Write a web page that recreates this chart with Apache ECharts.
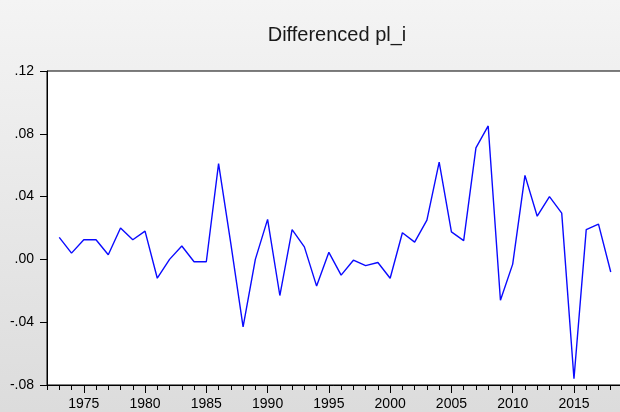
<!DOCTYPE html>
<html>
<head>
<meta charset="utf-8">
<script src="https://cdn.jsdelivr.net/npm/echarts@6/dist/echarts.min.js"></script>
<style>
	html, body { margin: 0; padding: 0; }
	#chart { width: 620px; height: 412px; }
</style>
</head>
<body>
<div id="chart"></div>
<script>
const years = [1973, 1974, 1975, 1976, 1977, 1978, 1979, 1980, 1981, 1982,
	1983, 1984, 1985, 1986, 1987, 1988, 1989, 1990, 1991, 1992,
	1993, 1994, 1995, 1996, 1997, 1998, 1999, 2000, 2001, 2002,
	2003, 2004, 2005, 2006, 2007, 2008, 2009, 2010, 2011, 2012,
	2013, 2014, 2015, 2016, 2017, 2018];
const diffValues = [0.014, 0.004, 0.0125, 0.0125, 0.003, 0.020, 0.0125, 0.018, -0.012, 0.000,
	0.0085, -0.0015, -0.0015, 0.061, 0.010, -0.043, 0.000, 0.0255, -0.023, 0.019,
	0.008, -0.017, 0.0045, -0.010, -0.0005, -0.004, -0.002, -0.012, 0.017, 0.011,
	0.025, 0.062, 0.0175, 0.012, 0.071, 0.085, -0.026, -0.003, 0.0535, 0.0275,
	0.040, 0.0295, -0.076, 0.019, 0.0225, -0.008];
const yTicks = [-0.08, -0.04, 0.00, 0.04, 0.08, 0.12];

// axis runs one year either side of the sample
const cats = [String(years[0] - 1)].concat(years.map(String), [String(years[years.length - 1] + 1)]);
const lineData = [null].concat(diffValues, [null]);

const FONT = '"Liberation Sans", Arial, sans-serif';

function fmtY(v) {
	let s = Math.abs(v).toFixed(2).replace(/^0/, '');
	return (v < -1e-9 ? '-' : '') + s;
}
const isMajor = (i, v) => Number(v) % 5 === 0;

const chart = echarts.init(document.getElementById('chart'), null, { renderer: 'canvas' });
chart.setOption({
	animation: false,
	backgroundColor: {
		type: 'linear', x: 0, y: 0, x2: 0, y2: 1,
		colorStops: [
			{ offset: 0, color: '#f4f4f4' },
			{ offset: 1, color: '#dcdcdc' }
		]
	},
	title: {
		text: 'Differenced pl_i',
		left: 332,
		top: 20,
		textAlign: 'center',
		textStyle: { fontFamily: FONT, fontSize: 20, fontWeight: 'normal', color: '#1a1a1a' }
	},
	grid: {
		left: 47, right: -3, top: 71, bottom: 27,
		containLabel: false,
		outerBoundsMode: 'none',
		show: true,
		backgroundColor: '#fff',
		borderColor: '#000',
		borderWidth: 1
	},
	xAxis: [
		{
			type: 'category',
			data: cats,
			boundaryGap: false,
			axisLine: { onZero: false, lineStyle: { color: '#000', width: 1 } },
			axisTick: { interval: 0, length: 5, lineStyle: { color: '#000' } },
			axisLabel: { show: false },
			splitLine: { show: false }
		},
		{
			type: 'category',
			data: cats,
			position: 'bottom',
			boundaryGap: false,
			axisLine: { show: false, onZero: false },
			axisTick: { interval: isMajor, length: 8, lineStyle: { color: '#000' } },
			axisLabel: {
				interval: isMajor, margin: 12,
				fontFamily: FONT, fontSize: 14, color: '#000'
			},
			splitLine: { show: false }
		}
	],
	yAxis: {
		type: 'value',
		min: yTicks[0],
		max: yTicks[yTicks.length - 1],
		interval: 0.04,
		axisLine: { show: true, lineStyle: { color: '#000' } },
		axisTick: { show: true, length: 7, lineStyle: { color: '#000' } },
		axisLabel: {
			margin: 13, formatter: fmtY,
			fontFamily: FONT, fontSize: 14, color: '#000'
		},
		splitLine: { show: false }
	},
	series: [{
		type: 'line',
		data: lineData,
		xAxisIndex: 0,
		showSymbol: false,
		symbol: 'none',
		connectNulls: false,
		lineStyle: { color: '#0a0aff', width: 1.4 }
	}]
});
</script>
</body>
</html>
